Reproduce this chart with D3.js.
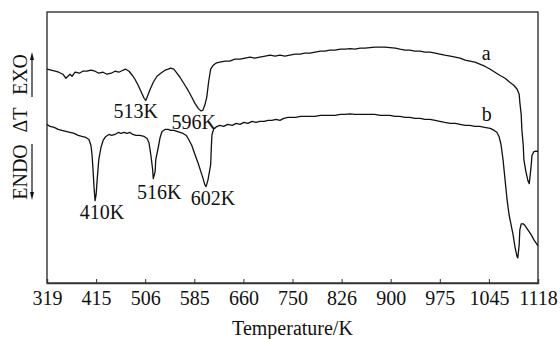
<!DOCTYPE html>
<html>
<head>
<meta charset="utf-8">
<script src="https://cdn.jsdelivr.net/npm/d3@7"></script>
<style>
  body { margin: 0; background: #fff; }
  svg { display: block; }
  text { font-family: "Liberation Serif", "Times New Roman", serif; fill: #111; }
</style>
</head>
<body>
<div id="vis-holder"></div>
<script>
// Tick labels on the temperature axis (evenly spaced in the figure)
const tickTemps = [319, 415, 506, 585, 660, 750, 826, 900, 975, 1045, 1118];

// Curve a: temperature (K) and DTA signal (arbitrary units)
const tempA = [319, 327, 335, 342, 350, 356, 360, 364, 368, 374, 382, 389, 397, 405, 413, 420, 428, 435, 443, 450,
  457, 465, 470, 476, 482, 487, 493, 498, 504, 507, 509, 514, 519, 525, 531, 538, 543, 547, 552, 557,
  562, 568, 575, 581, 586, 591, 595, 598, 601, 604, 607, 610, 614, 618, 624, 632, 639, 647, 655, 663,
  672, 681, 690, 700, 709, 718, 727, 736, 745, 754, 762, 769, 777, 785, 793, 800, 808, 816, 824, 831,
  839, 846, 854, 861, 869, 876, 884, 891, 899, 907, 914, 922, 929, 937, 945, 952, 960, 968, 975, 982,
  990, 997, 1004, 1011, 1018, 1025, 1032, 1039, 1047, 1054, 1061, 1069, 1076, 1082, 1087, 1090, 1091, 1093, 1094, 1096,
  1097, 1100, 1103, 1105, 1106, 1108, 1109, 1112, 1115, 1118];
const dtA = [21.3, 21.2, 21.1, 21.0, 20.8, 20.4, 20.6, 20.8, 20.6, 21.0, 20.9, 21.1, 21.1, 21.2, 21.1, 20.9, 21.0, 20.8, 20.9, 21.1,
  21.0, 21.2, 21.3, 21.1, 20.7, 20.3, 19.7, 19.1, 18.4, 18.2, 18.5, 19.3, 20.0, 20.6, 20.9, 21.2, 21.3, 21.4, 21.3, 20.9,
  20.5, 19.9, 19.2, 18.5, 17.9, 17.4, 17.15, 17.2, 17.7, 18.5, 20.1, 21.3, 21.7, 21.9, 22.0, 22.1, 22.1, 22.3, 22.3, 22.4,
  22.5, 22.4, 22.5, 22.6, 22.7, 22.6, 22.7, 22.6, 22.7, 22.8, 22.8, 22.9, 22.9, 23.0, 23.1, 23.1, 23.2, 23.2, 23.3, 23.3,
  23.35, 23.3, 23.4, 23.4, 23.45, 23.5, 23.5, 23.5, 23.45, 23.4, 23.3, 23.2, 23.2, 23.1, 23.1, 23.0, 23.0, 22.9, 22.8, 22.7,
  22.6, 22.5, 22.4, 22.2, 22.1, 22.0, 21.8, 21.6, 21.3, 21.0, 20.7, 20.4, 20.0, 19.7, 19.3, 18.8, 18.0, 16.8, 15.3, 13.8,
  12.3, 11.1, 10.2, 9.9, 10.5, 11.8, 12.7, 13.1, 13.15, 13.1];

// Curve b
const tempB = [319, 325, 333, 341, 348, 356, 364, 372, 380, 387, 395, 401, 405, 407, 409, 411, 413, 415, 417, 420,
  424, 428, 433, 439, 444, 450, 456, 461, 467, 472, 478, 483, 489, 496, 504, 509, 512, 515, 518, 519,
  522, 523, 527, 530, 533, 538, 543, 547, 552, 557, 562, 567, 572, 576, 581, 586, 591, 595, 598, 601,
  603, 606, 610, 611, 612, 615, 620, 624, 630, 636, 643, 649, 655, 661, 668, 676, 683, 690, 698, 705,
  712, 720, 727, 734, 742, 749, 755, 762, 769, 777, 785, 793, 800, 808, 816, 824, 831, 839, 846, 854,
  861, 869, 876, 884, 891, 899, 907, 914, 922, 929, 937, 945, 952, 960, 968, 975, 982, 990, 997, 1004,
  1011, 1018, 1025, 1032, 1039, 1047, 1053, 1057, 1060, 1063, 1066, 1069, 1072, 1075, 1078, 1081, 1084, 1087, 1088, 1090,
  1091, 1093, 1096, 1099, 1103, 1108, 1112, 1118];
const dtB = [15.8, 15.6, 15.5, 15.3, 15.2, 15.1, 15.0, 14.9, 14.7, 14.6, 14.5, 14.3, 13.7, 12.8, 11.3, 9.5, 8.2, 8.8, 10.3, 12.3,
  13.5, 14.2, 14.6, 14.8, 14.7, 14.8, 15.0, 14.9, 15.0, 14.9, 15.0, 14.8, 14.7, 14.7, 14.6, 14.4, 14.0, 12.8, 11.3, 10.4,
  11.1, 12.3, 13.5, 14.5, 15.1, 15.3, 15.3, 15.2, 15.2, 15.1, 15.0, 14.9, 14.7, 14.3, 13.7, 12.8, 11.9, 11.1, 10.5, 9.8,
  9.6, 10.3, 11.8, 13.5, 14.8, 15.4, 15.6, 15.7, 15.6, 15.8, 15.7, 15.9, 15.8, 16.0, 15.9, 16.1, 16.0, 16.1, 16.1, 16.2,
  16.2, 16.3, 16.2, 16.4, 16.5, 16.5, 16.5, 16.6, 16.6, 16.6, 16.6, 16.7, 16.7, 16.7, 16.7, 16.8, 16.8, 16.85, 16.8, 16.8,
  16.8, 16.8, 16.8, 16.7, 16.7, 16.7, 16.6, 16.6, 16.5, 16.5, 16.4, 16.4, 16.3, 16.3, 16.2, 16.1, 16.0, 15.9, 15.9, 15.8,
  15.7, 15.7, 15.6, 15.6, 15.5, 15.4, 15.2, 15.0, 14.6, 13.8, 12.3, 10.3, 8.3, 6.8, 5.8, 4.8, 3.5, 2.6, 2.5, 3.8,
  5.3, 5.9, 5.9, 5.7, 5.3, 4.8, 4.3, 3.7];

// Peak annotations (valley positions) and curve names
const peakLabels = ["513K", "596K", "410K", "516K", "602K"];
const peakTemps = [507, 595, 413, 519, 603];
const peakDt = [18.2, 17.15, 8.2, 10.4, 9.6];
const curveNames = ["a", "b"];

const width = 560;
const height = 339;
const margin = { top: 12, right: 22, bottom: 56, left: 47 };

const svg = d3.select("#vis-holder")
  .append("svg")
  .attr("width", width)
  .attr("height", height);

const plotLeft = margin.left, plotRight = width - margin.right;
const plotTop = margin.top, plotBottom = height - margin.bottom;

// Temperature ticks are equally spaced, so use a piecewise linear scale
const step = (plotRight - plotLeft) / (tickTemps.length - 1);
const x = d3.scaleLinear()
  .domain(tickTemps)
  .range(tickTemps.map((d, i) => plotLeft + i * step));

const y = d3.scaleLinear()
  .domain([0, 27])
  .range([plotBottom, plotTop]);

// Frame
svg.append("rect")
  .attr("x", plotLeft)
  .attr("y", plotTop)
  .attr("width", plotRight - plotLeft)
  .attr("height", plotBottom - plotTop)
  .attr("fill", "none")
  .attr("stroke", "#333")
  .attr("stroke-width", 1.4);

// X axis, ticks pointing inward
svg.append("g")
  .attr("transform", `translate(0,${plotBottom})`)
  .call(d3.axisBottom(x).tickValues(tickTemps).tickSize(-4).tickFormat(d3.format("d")))
  .call((g) => g.select(".domain").attr("stroke", "#333").attr("stroke-width", 1.4))
  .call((g) => g.selectAll(".tick line").attr("stroke", "#333"))
  .call((g) => g.selectAll(".tick text")
    .attr("y", 22)
    .attr("dy", null)
    .attr("font-size", "20px")
    .attr("font-family", "Liberation Serif, serif")
    .attr("fill", "#111"));

svg.append("text")
  .attr("x", (plotLeft + plotRight) / 2)
  .attr("y", 335)
  .attr("text-anchor", "middle")
  .attr("font-size", "20px")
  .text("Temperature/K");

// Y label: ENDO  ΔT  EXO with arrows
const yl = svg.append("g").attr("transform", "translate(27,0)");
const yParts = [["EXO", 74.5], ["\u0394T", 120], ["ENDO", 172]];
yParts.forEach(([t, cy]) => {
  yl.append("text")
    .attr("transform", `translate(0,${cy}) rotate(-90)`)
    .attr("text-anchor", "middle")
    .attr("font-size", "20px")
    .text(t);
});
// underline with arrow up (EXO)
yl.append("line").attr("x1", 5).attr("x2", 5).attr("y1", 97).attr("y2", 56)
  .attr("stroke", "#111").attr("stroke-width", 1.2);
yl.append("path").attr("d", "M5,52 L3,60 L7,60 Z").attr("fill", "#111");
// underline with arrow down (ENDO)
yl.append("line").attr("x1", 5).attr("x2", 5).attr("y1", 144).attr("y2", 196)
  .attr("stroke", "#111").attr("stroke-width", 1.2);
yl.append("path").attr("d", "M5,200 L3,192 L7,192 Z").attr("fill", "#111");

// Curves
const line = d3.line()
  .x((d) => x(d[0]))
  .y((d) => y(d[1]));

const seriesA = tempA.map((t, i) => [t, dtA[i]]);
const seriesB = tempB.map((t, i) => [t, dtB[i]]);

[seriesA, seriesB].forEach((s) => {
  svg.append("path")
    .datum(s)
    .attr("d", line)
    .attr("fill", "none")
    .attr("stroke", "#111")
    .attr("stroke-width", 1.3)
    .attr("stroke-linejoin", "round");
});

// Peak labels placed just under each valley
const offsets = [[-10, 18], [-7, 18], [7, 18], [6, 20], [7, 18]];
peakLabels.forEach((t, i) => {
  svg.append("text")
    .attr("x", x(peakTemps[i]) + offsets[i][0])
    .attr("y", y(peakDt[i]) + offsets[i][1])
    .attr("text-anchor", "middle")
    .attr("font-size", "20px")
    .text(t);
});

// Curve names near the right end
const nameTemps = [1041, 1042];
const nameDt = [22.0, 15.9];
curveNames.forEach((t, i) => {
  svg.append("text")
    .attr("x", x(nameTemps[i]))
    .attr("y", y(nameDt[i]) - 2)
    .attr("text-anchor", "middle")
    .attr("font-size", "20px")
    .text(t);
});
</script>
</body>
</html>
